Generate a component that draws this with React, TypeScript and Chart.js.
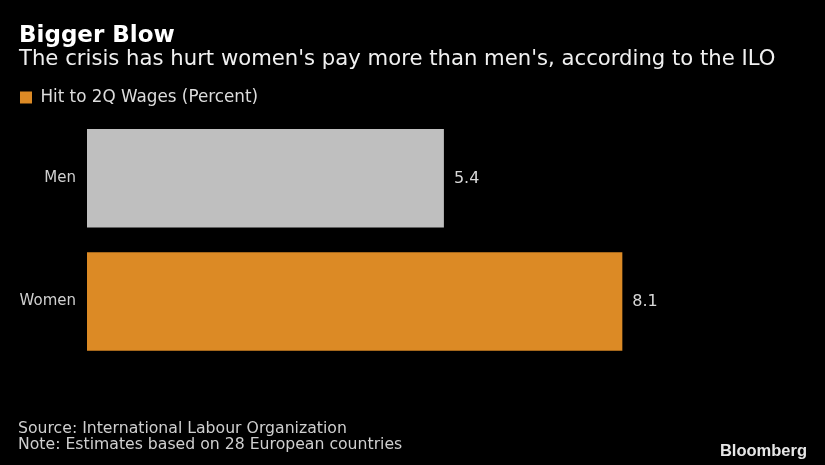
import React, { useEffect, useRef } from "react";
import { Chart, registerables } from "chart.js";

Chart.register(...registerables);

const CATEGORIES = ["Men", "Women"];
const VALUES = [5.4, 8.1];
const VALUE_LABELS = ["5.4", "8.1"];
const BAR_COLORS = ["#bfbfbf", "#dc8a25"];
const LEGEND_LABEL = "Hit to 2Q Wages (Percent)";
const TITLE = "Bigger Blow";
const SUBTITLE = "The crisis has hurt women's pay more than men's, according to the ILO";
const FOOTNOTES = [
  "Source: International Labour Organization",
  "Note: Estimates based on 28 European countries",
];
const BRAND = "Bloomberg";

const SANS = "'DejaVu Sans', sans-serif";

const valueLabelPlugin = {
  id: "valueLabels",
  afterDatasetsDraw(chart: any) {
    const ctx = chart.ctx;
    const meta = chart.getDatasetMeta(0);
    ctx.save();
    ctx.font = `16px ${SANS}`;
    ctx.fillStyle = "#d8d8d8";
    ctx.textAlign = "left";
    ctx.textBaseline = "middle";
    meta.data.forEach((bar: any, i: number) => {
      ctx.fillText(VALUE_LABELS[i], bar.x + 10, bar.y);
    });
    ctx.restore();
  },
};

const footerPlugin = {
  id: "footer",
  afterDraw(chart: any) {
    const ctx = chart.ctx;
    ctx.save();
    ctx.font = `15.7px ${SANS}`;
    ctx.fillStyle = "#cfcfcf";
    ctx.textAlign = "left";
    ctx.textBaseline = "alphabetic";
    ctx.fillText(FOOTNOTES[0], 18, 432.5);
    ctx.fillText(FOOTNOTES[1], 18, 448.5);
    ctx.font = `bold 16.5px 'Liberation Sans', Arial, sans-serif`;
    ctx.fillStyle = "#e6e6e6";
    ctx.textAlign = "right";
    ctx.fillText(BRAND, 807, 456);
    ctx.restore();
  },
};

export default function App() {
  const ref = useRef<HTMLCanvasElement | null>(null);

  useEffect(() => {
    if (!ref.current) return;
    const chart = new Chart(ref.current, {
      type: "bar",
      data: {
        labels: CATEGORIES,
        datasets: [
          {
            label: LEGEND_LABEL,
            data: VALUES,
            backgroundColor: BAR_COLORS,
            borderWidth: 0,
            barPercentage: 0.8,
            categoryPercentage: 1,
          },
        ],
      },
      options: {
        indexAxis: "y",
        animation: false,
        responsive: false,
        maintainAspectRatio: false,
        layout: { padding: { left: 19, right: 11, top: 0, bottom: 102 } },
        plugins: {
          title: {
            display: true,
            text: TITLE,
            align: "start",
            color: "#ffffff",
            font: { family: SANS, size: 23, weight: "bold", lineHeight: 1.0 },
            padding: { top: 24.6, bottom: 0 },
          },
          subtitle: {
            display: true,
            text: SUBTITLE,
            align: "start",
            color: "#f0f0f0",
            font: { family: SANS, size: 21.2, lineHeight: 1.08 },
            padding: { top: 0, bottom: 17.6 },
          },
          legend: {
            display: true,
            position: "top",
            align: "start",
            labels: {
              boxWidth: 12,
              boxHeight: 12,
              padding: 1,
              color: "#dddddd",
              font: { family: SANS, size: 16.8 },
              generateLabels: () => [
                {
                  text: LEGEND_LABEL,
                  fillStyle: BAR_COLORS[1],
                  strokeStyle: BAR_COLORS[1],
                  lineWidth: 0,
                  fontColor: "#dddddd",
                  hidden: false,
                  datasetIndex: 0,
                },
              ],
            },
          },
          tooltip: { enabled: false },
        },
        scales: {
          x: {
            type: "linear",
            position: "top",
            min: 0,
            max: 11,
            display: true,
            grid: { display: false },
            border: { display: false },
            ticks: { display: false },
            afterFit: (s: any) => {
              s.height = 0.9;
            },
          },
          y: {
            grid: { display: false, drawTicks: false },
            border: { display: false },
            ticks: {
              color: "#d0d0d0",
              padding: 11,
              font: { family: SANS, size: 15 },
            },
            afterFit: (s: any) => {
              s.width = 68;
            },
          },
        },
      },
      plugins: [valueLabelPlugin, footerPlugin],
    });
    return () => chart.destroy();
  }, []);

  return (
    <div
      style={{
        position: "fixed",
        left: 0,
        top: 0,
        width: 825,
        height: 465,
        background: "#000000",
      }}
    >
      <canvas ref={ref} width={825} height={465} style={{ display: "block" }} />
    </div>
  );
}
